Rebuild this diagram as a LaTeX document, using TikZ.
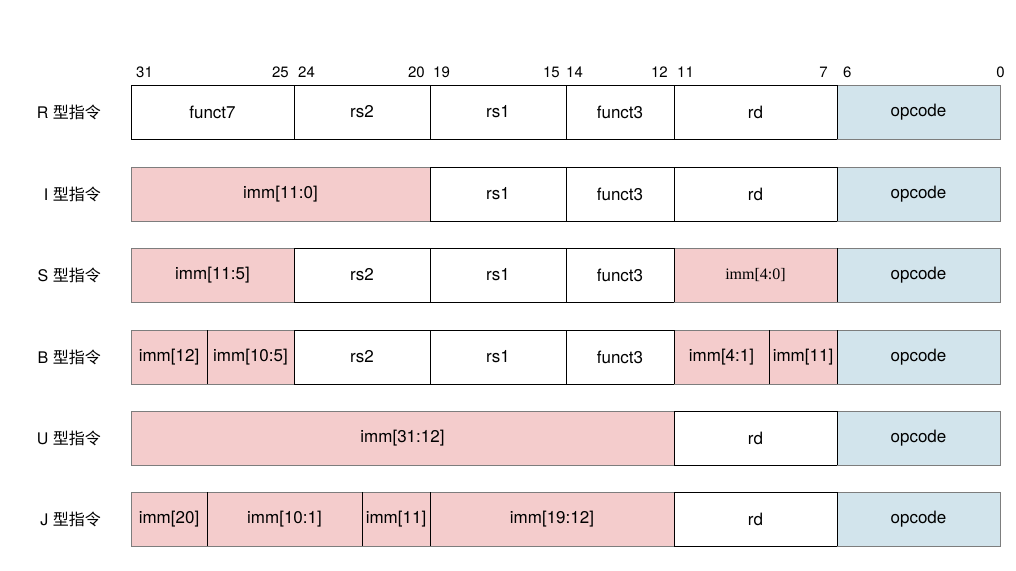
\documentclass[tikz,border=0pt]{standalone}
\usepackage{fontspec}
\setmainfont{TeX Gyre Heros}
\newfontfamily\cjk{Noto Sans CJK SC}
\newfontfamily\serifimm{Liberation Serif}
\definecolor{immpink}{RGB}{244,204,204}
\definecolor{opblue}{RGB}{210,228,236}
\definecolor{edgegray}{RGB}{125,125,125}
\newcommand\fieldcell[6]{\node[cell,#6,minimum width={(#3-#2)*1pt}] (#1) at (#2,#4) {#5};}
\newcommand\splitline[1]{\draw[divider] (#1.north east) -- (#1.south east);}
\begin{document}
\begin{tikzpicture}[x=1pt,y=-1pt,
  cell/.style={draw=black,line width=1pt,minimum height=54pt,inner sep=0pt,outer sep=0pt,
    anchor=north west,font=\fontsize{17}{20}\selectfont},
  plain/.style={fill=white,draw=black},
  imm/.style={fill=immpink,draw=edgegray},
  op/.style={fill=opblue,draw=edgegray},
  divider/.style={draw=black,line width=1pt},
  bit/.style={font=\fontsize{15}{18}\selectfont,inner sep=0pt},
  rowlabel/.style={font=\fontsize{16}{19}\selectfont,inner sep=0pt,anchor=east}]
\useasboundingbox (0,0) rectangle (1016,570);
% bit numbers
\node[bit,anchor=west] (b31) at (136,72) {31};
\node[bit,anchor=east] (b25) at (289,72) {25};
\node[bit,anchor=west] (b24) at (298,72) {24};
\node[bit,anchor=east] (b20) at (425,72) {20};
\node[bit,anchor=west] (b19) at (433,72) {19};
\node[bit,anchor=east] (b15) at (560,72) {15};
\node[bit,anchor=west] (b14) at (566,72) {14};
\node[bit,anchor=east] (b12) at (668,72) {12};
\node[bit,anchor=west] (b11) at (677,72) {11};
\node[bit,anchor=east] (b7) at (828,72) {7};
\node[bit,anchor=west] (b6) at (843,72) {6};
\node[bit,anchor=east] (b0) at (1005,72) {0};
% row labels
\node[rowlabel] (lr) at (101,112) {R {\cjk 型指令}};
\node[rowlabel] (li) at (101,194) {I {\cjk 型指令}};
\node[rowlabel] (ls) at (101,275) {S {\cjk 型指令}};
\node[rowlabel] (lb) at (101,357) {B {\cjk 型指令}};
\node[rowlabel] (lu) at (101,438) {U {\cjk 型指令}};
\node[rowlabel] (lj) at (101,519) {J {\cjk 型指令}};
% R type
\fieldcell{rf7}{131}{294}{85}{funct7}{plain}
\fieldcell{rrs2}{294}{430}{85}{rs2}{plain}
\fieldcell{rrs1}{430}{566}{85}{rs1}{plain}
\fieldcell{rf3}{566}{674}{85}{funct3}{plain}
\fieldcell{rrd}{674}{837}{85}{rd}{plain}
\fieldcell{rop}{837}{1000}{85}{opcode}{op}
% I type
\fieldcell{iimm}{131}{430}{167}{imm[11:0]}{imm}
\fieldcell{irs1}{430}{566}{167}{rs1}{plain}
\fieldcell{if3}{566}{674}{167}{funct3}{plain}
\fieldcell{ird}{674}{837}{167}{rd}{plain}
\fieldcell{iop}{837}{1000}{167}{opcode}{op}
% S type
\fieldcell{simmh}{131}{294}{248}{imm[11:5]}{imm}
\fieldcell{srs2}{294}{430}{248}{rs2}{plain}
\fieldcell{srs1}{430}{566}{248}{rs1}{plain}
\fieldcell{sf3}{566}{674}{248}{funct3}{plain}
\fieldcell{simml}{674}{837}{248}{\serifimm\fontsize{16}{19}\selectfont imm[4:0]}{imm}
\fieldcell{sop}{837}{1000}{248}{opcode}{op}
% B type
\fieldcell{bimma}{131}{207}{330}{imm[12]}{imm}
\fieldcell{bimmb}{207}{294}{330}{imm[10:5]}{imm}
\fieldcell{brs2}{294}{430}{330}{rs2}{plain}
\fieldcell{brs1}{430}{566}{330}{rs1}{plain}
\fieldcell{bf3}{566}{674}{330}{funct3}{plain}
\fieldcell{bimmc}{674}{769}{330}{imm[4:1]}{imm}
\fieldcell{bimmd}{769}{837}{330}{imm[11]}{imm}
\fieldcell{bop}{837}{1000}{330}{opcode}{op}
% U type
\fieldcell{uimm}{131}{674}{411}{imm[31:12]}{imm}
\fieldcell{urd}{674}{837}{411}{rd}{plain}
\fieldcell{uop}{837}{1000}{411}{opcode}{op}
% J type
\fieldcell{jimma}{131}{207}{492}{imm[20]}{imm}
\fieldcell{jimmb}{207}{362}{492}{imm[10:1]}{imm}
\fieldcell{jimmc}{362}{430}{492}{imm[11]}{imm}
\fieldcell{jimmd}{430}{674}{492}{imm[19:12]}{imm}
\fieldcell{jrd}{674}{837}{492}{rd}{plain}
\fieldcell{jop}{837}{1000}{492}{opcode}{op}
% black field dividers
\foreach \c in {rf7,rrs2,rrs1,rf3,rrd,iimm,irs1,if3,ird,simmh,srs2,srs1,sf3,simml,
  bimma,bimmb,brs2,brs1,bf3,bimmc,bimmd,uimm,urd,jimma,jimmb,jimmc,jimmd,jrd}{\splitline{\c}}
\end{tikzpicture}
\end{document}
